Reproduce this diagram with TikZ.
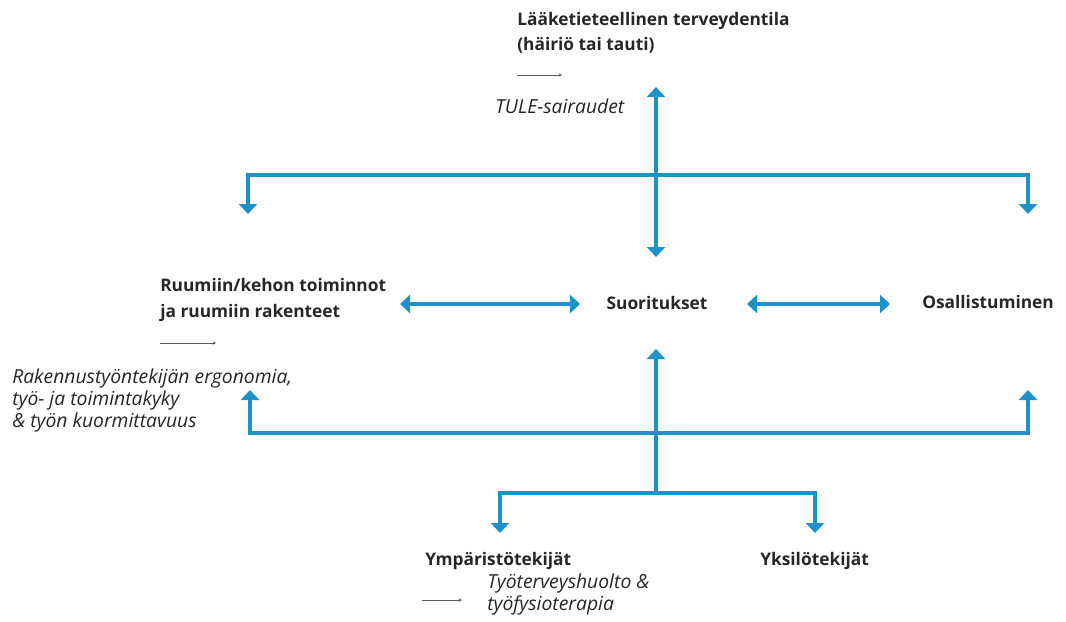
\documentclass[tikz,border=0pt]{standalone}
\usepackage{fontspec}
\setmainfont{Open Sans}
\usetikzlibrary{arrows.meta}
\definecolor{icfblue}{RGB}{28,146,200}
\definecolor{thingray}{RGB}{90,90,90}
\tikzset{
  lbl/.style={font=\bfseries\fontsize{13}{19}\selectfont, text=black!85, inner sep=0pt, anchor=west, align=left},
  itl/.style={font=\itshape\fontsize{14.5}{16.5}\selectfont, text=black!85, inner sep=0pt, anchor=west, align=left},
  flow/.style={draw=icfblue, line width=3pt},
  tip/.style={-{Triangle[width=13.5pt,length=7.5pt]}},
  tips/.style={{Triangle[width=13.5pt,length=7.5pt]}-{Triangle[width=13.5pt,length=7.5pt]}},
  thin/.style={draw=thingray, line width=0.5pt, -{Stealth[length=2.5pt,width=2.5pt]}}
}
\begin{document}
\begin{tikzpicture}[x=0.75pt,y=-0.75pt]
\useasboundingbox (0,0) rectangle (1066,621);
% text nodes
\node[lbl] (med) at (517,33) {Lääketieteellinen terveydentila\\(häiriö tai tauti)};
\node[itl] (tule) at (495,106) {TULE-sairaudet};
\node[lbl] (body) at (160,300) {Ruumiin/kehon toiminnot\\ja ruumiin rakenteet};
\node[itl] (erg) at (12,400) {Rakennustyöntekijän ergonomia,\\työ- ja toimintakyky\\\& työn kuormittavuus};
\node[lbl, anchor=center] (act) at (657,303) {Suoritukset};
\node[lbl] (part) at (922,302) {Osallistuminen};
\node[lbl] (env) at (425,561) {Ympäristötekijät};
\node[lbl] (pers) at (760,561) {Yksilötekijät};
\node[itl] (hc) at (487,594) {Työterveyshuolto \&\\työfysioterapia};
% coordinates
\coordinate (topT) at (656,87);
\coordinate (topB) at (656,257);
\coordinate (topJ) at (656,175);
\coordinate (tl) at (248,214);
\coordinate (tr) at (1028,214);
\coordinate (bodyR) at (400,304);
\coordinate (actL) at (580,304);
\coordinate (actR) at (747,304);
\coordinate (partL) at (890,304);
\coordinate (upT) at (656,349);
\coordinate (midJ) at (656,433);
\coordinate (botJ) at (656,493);
\coordinate (bl) at (250,390);
\coordinate (br) at (1028,390);
\coordinate (el) at (500,533);
\coordinate (er) at (815,533);
\coordinate (a1s) at (517,75); \coordinate (a1e) at (562,75);
\coordinate (a2s) at (160,343); \coordinate (a2e) at (216,343);
\coordinate (a3s) at (422,600); \coordinate (a3e) at (462,600);
% blue connectors
\draw[flow,tips] (topT) -- (topB);
\draw[flow,tip] (topJ) -| (tl);
\draw[flow,tip] (topJ) -| (tr);
\draw[flow,tips] (bodyR) -- (actL);
\draw[flow,tips] (actR) -- (partL);
\draw[flow,tip] (botJ) -- (upT);
\draw[flow,tip] (midJ) -| (bl);
\draw[flow,tip] (midJ) -| (br);
\draw[flow,tip] (botJ) -| (el);
\draw[flow,tip] (botJ) -| (er);
% thin arrows
\draw[thin] (a1s) -- (a1e);
\draw[thin] (a2s) -- (a2e);
\draw[thin] (a3s) -- (a3e);
\end{tikzpicture}
\end{document}
